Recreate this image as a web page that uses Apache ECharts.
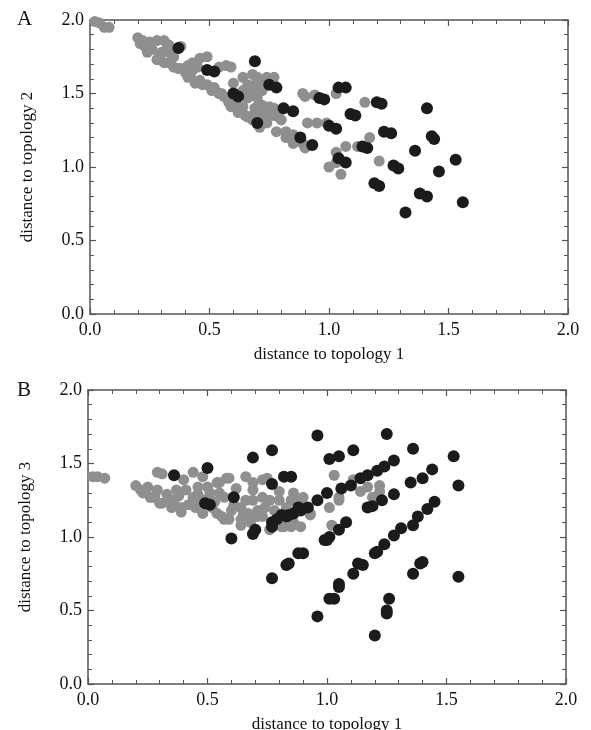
<!DOCTYPE html>
<html>
<head>
<meta charset="utf-8">
<script src="https://cdn.jsdelivr.net/npm/echarts@6/dist/echarts.min.js"></script>
<style>
  html, body { margin: 0; padding: 0; background: #fff; }
  #chart { width: 591px; height: 730px; }
</style>
</head>
<body>
<div id="chart"></div>
<script>
// panel A: distance to topology 1 (x) vs distance to topology 2 (y)
const grayA = [
  [0.02, 1.99], [0.04, 1.98], [0.06, 1.95], [0.08, 1.95],
  [0.20, 1.88], [0.22, 1.86], [0.25, 1.85], [0.28, 1.86], [0.31, 1.86], [0.33, 1.83], [0.23, 1.82], [0.26, 1.80],
  [0.30, 1.78], [0.33, 1.78], [0.36, 1.80], [0.38, 1.82], [0.21, 1.84], [0.24, 1.78], [0.32, 1.80],
  [0.28, 1.73], [0.31, 1.71], [0.35, 1.68], [0.37, 1.67], [0.40, 1.64], [0.41, 1.61], [0.44, 1.57], [0.47, 1.56],
  [0.51, 1.52], [0.54, 1.50], [0.56, 1.48], [0.58, 1.44], [0.59, 1.41], [0.62, 1.37], [0.65, 1.35], [0.68, 1.32],
  [0.29, 1.75], [0.33, 1.71], [0.38, 1.67], [0.42, 1.62], [0.46, 1.59], [0.49, 1.56], [0.52, 1.54], [0.55, 1.50],
  [0.59, 1.47], [0.61, 1.44],
  [0.43, 1.71], [0.46, 1.74], [0.49, 1.75], [0.45, 1.68], [0.54, 1.68], [0.59, 1.68], [0.57, 1.69], [0.35, 1.75],
  [0.41, 1.69], [0.43, 1.66], [0.45, 1.58],
  [0.64, 1.61], [0.68, 1.63], [0.70, 1.59], [0.72, 1.56], [0.66, 1.56], [0.64, 1.52], [0.68, 1.49], [0.70, 1.47],
  [0.60, 1.57], [0.66, 1.47], [0.68, 1.54], [0.72, 1.52],
  [0.64, 1.41], [0.69, 1.40], [0.72, 1.42], [0.72, 1.37], [0.68, 1.35], [0.63, 1.39], [0.66, 1.34],
  [0.70, 1.61], [0.74, 1.61], [0.77, 1.61], [0.72, 1.54],
  [0.70, 1.41], [0.75, 1.41], [0.77, 1.40], [0.70, 1.37], [0.74, 1.37], [0.77, 1.35], [0.79, 1.34], [0.80, 1.32],
  [0.72, 1.33], [0.71, 1.27], [0.74, 1.30],
  [0.89, 1.50], [0.90, 1.48], [0.94, 1.49], [1.03, 1.50], [1.15, 1.44],
  [0.91, 1.30], [0.95, 1.30], [0.99, 1.30],
  [0.78, 1.24], [0.82, 1.24], [0.85, 1.22], [0.87, 1.18], [0.89, 1.16], [0.90, 1.13], [0.82, 1.20], [0.85, 1.16],
  [1.07, 1.14], [1.03, 1.10], [1.12, 1.14], [1.17, 1.20], [1.21, 1.04], [1.00, 1.00], [1.05, 0.95], [1.03, 1.03]
]
const blackA = [
  [0.37, 1.81], [0.49, 1.66], [0.52, 1.65], [0.69, 1.72], [0.60, 1.50], [0.62, 1.48], [0.75, 1.56], [0.78, 1.54],
  [0.70, 1.30], [0.81, 1.40], [0.85, 1.38], [0.88, 1.20], [0.93, 1.15],
  [1.04, 1.54], [1.07, 1.54], [0.96, 1.47], [0.98, 1.46], [1.20, 1.44], [1.22, 1.43], [1.41, 1.40], [1.09, 1.36],
  [1.11, 1.35], [1.00, 1.28], [1.03, 1.26], [1.23, 1.24], [1.26, 1.23], [1.43, 1.21], [1.44, 1.19], [1.14, 1.14],
  [1.16, 1.13], [1.04, 1.06], [1.07, 1.03], [1.36, 1.11], [1.27, 1.01], [1.29, 0.99], [1.53, 1.05], [1.46, 0.97],
  [1.19, 0.89], [1.21, 0.87], [1.38, 0.82], [1.41, 0.80], [1.32, 0.69], [1.56, 0.76]
]

// panel B: distance to topology 1 (x) vs distance to topology 3 (y)
const grayB = [
  [0.02, 1.41], [0.04, 1.41], [0.07, 1.40],
  [0.20, 1.35], [0.22, 1.32], [0.29, 1.44], [0.31, 1.43], [0.44, 1.44], [0.48, 1.41],
  [0.25, 1.34], [0.29, 1.32], [0.33, 1.29], [0.36, 1.25], [0.39, 1.20], [0.41, 1.32], [0.46, 1.34], [0.44, 1.27],
  [0.47, 1.25], [0.54, 1.37], [0.58, 1.40], [0.55, 1.30], [0.52, 1.20], [0.56, 1.14], [0.59, 1.12], [0.64, 1.08],
  [0.66, 1.41], [0.69, 1.32], [0.66, 1.25], [0.73, 1.39], [0.73, 1.27], [0.71, 1.18], [0.73, 1.14], [0.65, 1.16],
  [0.82, 1.07], [0.86, 1.10], [0.85, 1.25], [0.86, 1.30],
  [0.26, 1.27], [0.30, 1.23], [0.37, 1.32], [0.40, 1.39], [0.50, 1.34], [0.51, 1.30],
  [0.27, 1.27], [0.31, 1.23], [0.35, 1.20], [0.39, 1.17], [0.45, 1.20], [0.48, 1.16], [0.54, 1.16], [0.57, 1.12],
  [0.60, 1.18], [0.64, 1.12], [0.64, 1.20], [0.67, 1.16], [0.71, 1.14], [0.74, 1.20], [0.69, 1.25], [0.55, 1.37],
  [0.59, 1.40], [0.69, 1.37], [0.75, 1.40],
  [0.23, 1.30], [0.28, 1.28], [0.34, 1.26], [0.38, 1.28], [0.42, 1.22], [0.46, 1.29], [0.50, 1.26], [0.53, 1.24],
  [0.57, 1.27], [0.61, 1.22], [0.62, 1.33], [0.68, 1.10], [0.78, 1.18], [0.80, 1.31], [0.83, 1.20], [0.76, 1.05],
  [1.03, 1.42], [1.11, 1.39], [1.14, 1.31], [1.17, 1.34], [1.22, 1.35], [1.22, 1.31], [1.19, 1.27], [1.05, 1.25],
  [1.01, 1.20], [0.93, 1.15], [0.90, 1.27], [0.80, 1.25], [0.76, 1.25], [0.81, 1.07], [0.85, 1.07], [0.89, 1.07],
  [1.02, 1.08], [0.89, 1.25], [0.93, 1.16], [1.05, 1.27], [0.72, 1.16]
]
const blackB = [
  [0.36, 1.42], [0.50, 1.47], [0.49, 1.23], [0.51, 1.22], [0.61, 1.27], [0.69, 1.54], [0.77, 1.59], [0.82, 1.41],
  [0.85, 1.41], [0.77, 1.36], [0.81, 1.15], [0.84, 1.15], [0.86, 1.16], [0.77, 1.10], [0.77, 1.07], [0.70, 1.05],
  [0.69, 1.02], [0.60, 0.99], [0.88, 1.20], [0.88, 0.89],
  [0.96, 1.69], [1.25, 1.70], [1.36, 1.60], [1.53, 1.55], [1.55, 1.35],
  [1.01, 1.53], [1.05, 1.55], [1.11, 1.59],
  [1.28, 1.52], [1.24, 1.48], [1.21, 1.45], [1.17, 1.42], [1.14, 1.40], [1.10, 1.35], [1.06, 1.33],
  [1.00, 1.30], [0.96, 1.25], [0.92, 1.20], [0.89, 1.18], [0.83, 1.14], [0.79, 1.12],
  [1.35, 1.37], [1.40, 1.40], [1.44, 1.46],
  [1.28, 1.29], [1.23, 1.25], [1.19, 1.21], [1.17, 1.20],
  [1.45, 1.24], [1.42, 1.19], [1.38, 1.14], [1.36, 1.08], [1.31, 1.06], [1.28, 1.01], [1.24, 0.95], [1.21, 0.90],
  [1.08, 1.10], [1.05, 1.05], [1.01, 1.00], [0.99, 0.98], [1.00, 0.98],
  [0.90, 0.89], [1.20, 0.89],
  [0.83, 0.81], [0.84, 0.82], [0.77, 0.72], [1.15, 0.81], [1.13, 0.82], [1.11, 0.75], [1.05, 0.66], [1.05, 0.68],
  [1.01, 0.58], [1.03, 0.58], [0.96, 0.46], [1.39, 0.82], [1.40, 0.83], [1.36, 0.75], [1.55, 0.73], [1.26, 0.58],
  [1.25, 0.48], [1.25, 0.50], [1.20, 0.33]
]

const xTitle = 'distance to topology 1'
const yTitleA = 'distance to topology 2'
const yTitleB = 'distance to topology 3'

const serif = 'Liberation Serif'
const lineColor = '#555'

function axis(gridIndex, position, name, showLabel) {
  const vertical = position === 'left' || position === 'right'
  return {
    type: 'value',
    gridIndex: gridIndex,
    position: position,
    min: 0,
    max: 2,
    interval: 0.5,
    name: name || '',
    nameLocation: 'middle',
    nameGap: vertical ? 54 : 32,
    nameTextStyle: { fontFamily: serif, fontSize: 17, color: '#111' },
    axisLine: { show: true, onZero: false, lineStyle: { color: lineColor, width: 1.5 } },
    axisTick: { show: true, inside: true, length: 6, lineStyle: { color: lineColor, width: 1.2 } },
    minorTick: { show: true, splitNumber: 5, length: 4, lineStyle: { color: lineColor, width: 1 } },
    splitLine: { show: false },
    minorSplitLine: { show: false },
    axisLabel: {
      show: showLabel,
      margin: vertical ? 6 : 7,
      fontFamily: serif,
      fontSize: 18,
      color: '#111',
      formatter: v => v.toFixed(1)
    }
  }
}

function dots(data, color, size, xi, yi) {
  return {
    type: 'scatter',
    data: data,
    xAxisIndex: xi,
    yAxisIndex: yi,
    symbol: 'circle',
    symbolSize: size,
    itemStyle: { color: color, opacity: 1 },
    silent: true,
    animation: false
  }
}

const chart = echarts.init(document.getElementById('chart'), null, { renderer: 'canvas' })
chart.setOption({
  backgroundColor: '#fff',
  animation: false,
  title: [
    { text: 'A', left: 12, top: 4, textStyle: { fontFamily: serif, fontSize: 21, fontWeight: 'normal', color: '#111' } },
    { text: 'B', left: 12, top: 375, textStyle: { fontFamily: serif, fontSize: 21, fontWeight: 'normal', color: '#111' } }
  ],
  grid: [
    { left: 90, top: 20, right: 23, height: 294, outerBoundsMode: 'none' },
    { left: 88, top: 390, right: 25, height: 294, outerBoundsMode: 'none' }
  ],
  xAxis: [
    axis(0, 'bottom', xTitle, true),
    axis(0, 'top', '', false),
    axis(1, 'bottom', xTitle, true),
    axis(1, 'top', '', false)
  ],
  yAxis: [
    axis(0, 'left', yTitleA, true),
    axis(0, 'right', '', false),
    axis(1, 'left', yTitleB, true),
    axis(1, 'right', '', false)
  ],
  series: [
    dots(grayA, '#8f8f8f', 11, 0, 0),
    dots(blackA, '#1b1b1b', 12, 0, 0),
    dots(grayB, '#8f8f8f', 11, 2, 2),
    dots(blackB, '#1b1b1b', 12, 2, 2)
  ]
})
</script>
</body>
</html>
